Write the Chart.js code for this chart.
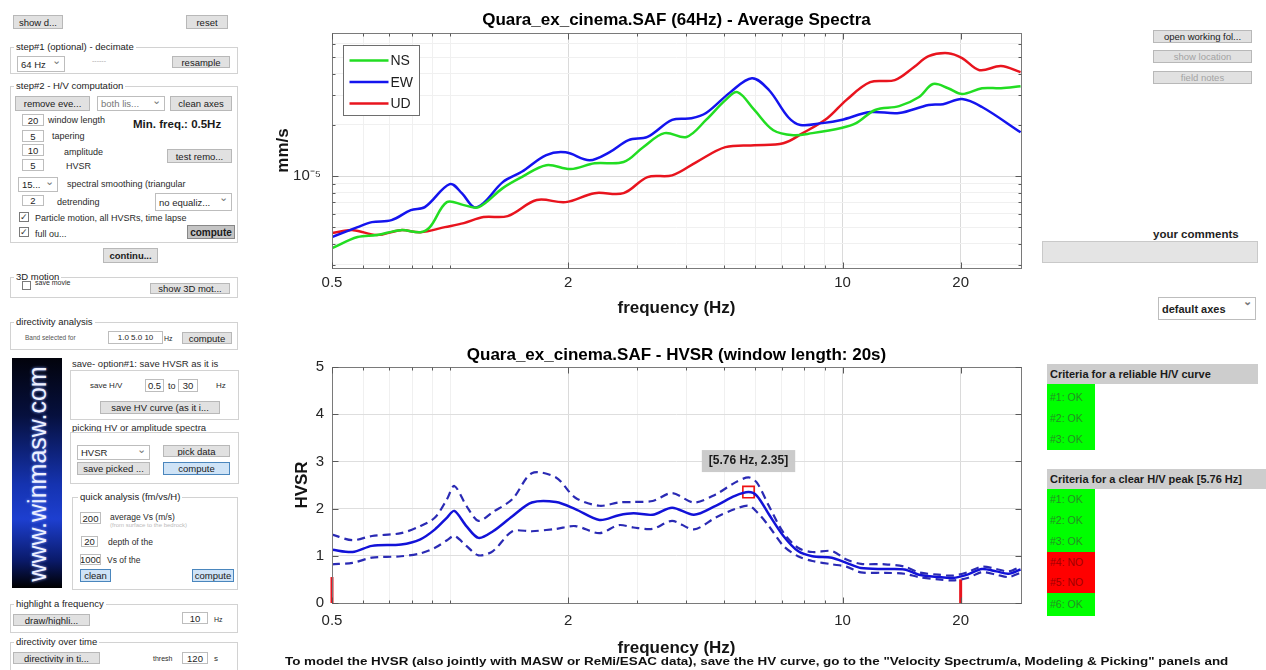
<!DOCTYPE html>
<html>
<head>
<meta charset="utf-8">
<title>HVSR analysis</title>
<script src="https://cdn.jsdelivr.net/npm/chart.js@4.4.1/dist/chart.umd.min.js"></script>
<style>
  html,body{margin:0;padding:0;background:#fff}
  body{width:1266px;height:670px;position:relative;overflow:hidden;font-family:'Liberation Sans',Arial,sans-serif;color:#1e1e1e}
  .a{position:absolute;box-sizing:border-box;white-space:nowrap;overflow:hidden}
  .b{background:#e1e1e1;border:1px solid #b8b8b8;font-size:9.5px;display:flex;align-items:center;justify-content:center;color:#1a1a1a}
  .bd{color:#a3a3a3}
  .bb{background:#cfe3f6;border:1px solid #4a86bd}
  .f{border:1px solid #d2d2d2}
  .g{font-size:9.5px;background:#fff;padding:0 2px;overflow:visible;color:#222}
  .i{background:#fff;border:1px solid #bdbdbd;font-size:9.5px;display:flex;align-items:center;justify-content:center}
  .t{font-size:9px;color:#2a2a2a;overflow:visible}
  .s{background:#fff;border:1px solid #bdbdbd;font-size:9.5px;display:flex;align-items:center;padding-left:3px}
  .s::after{content:'\2304';position:absolute;right:3px;top:-3px;color:#777;font-size:11px}
  .c{border:1px solid #7a7a7a;background:#fff;width:10px;height:10px;font-size:9px;line-height:9px;text-align:center;color:#333}
  .ok{background:#00ff00;color:#239023;font-size:10.5px;padding-left:3px}
  .no{background:#ff0000;color:#a00000;font-size:10.5px;padding-left:3px}
  .hd{background:#cdcdcd;font-size:11px;font-weight:bold;display:flex;align-items:center;padding-left:3px;color:#1a1a1a;overflow:visible}
</style>
</head>
<body>

<!-- left control panel -->
<div class="a b" style="left:13px;top:15px;width:50px;height:14px">show d...</div>
<div class="a b" style="left:186px;top:15px;width:42px;height:14px">reset</div>

<div class="a f" style="left:10px;top:47px;width:228px;height:27px"></div>
<div class="a g" style="left:14px;top:41px">step#1 (optional) - decimate</div>
<div class="a s" style="left:17px;top:56px;width:48px;height:16px">64 Hz</div>
<div class="a t" style="left:92px;top:57px;color:#aaa;font-size:7px">------</div>
<div class="a b" style="left:172px;top:56px;width:58px;height:12px">resample</div>

<div class="a f" style="left:10px;top:86px;width:228px;height:157px"></div>
<div class="a g" style="left:14px;top:80px">step#2 - H/V computation</div>
<div class="a b" style="left:15px;top:96px;width:75px;height:15px">remove eve...</div>
<div class="a s" style="left:97px;top:96px;width:68px;height:15px;color:#777">both lis...</div>
<div class="a b" style="left:170px;top:96px;width:62px;height:15px">clean axes</div>
<div class="a i" style="left:22px;top:114px;width:22px;height:12px">20</div>
<div class="a t" style="left:48px;top:115px">window length</div>
<div class="a t" style="left:133px;top:118px;font-size:11.5px;font-weight:bold;color:#1a1a1a">Min. freq.: 0.5Hz</div>
<div class="a i" style="left:22px;top:130px;width:22px;height:12px">5</div>
<div class="a t" style="left:52px;top:131px">tapering</div>
<div class="a i" style="left:22px;top:144px;width:22px;height:12px">10</div>
<div class="a t" style="left:64px;top:147px">amplitude</div>
<div class="a b" style="left:167px;top:149px;width:65px;height:14px">test remo...</div>
<div class="a i" style="left:22px;top:159px;width:22px;height:12px">5</div>
<div class="a t" style="left:66px;top:161px">HVSR</div>
<div class="a s" style="left:18px;top:177px;width:40px;height:15px">15...</div>
<div class="a t" style="left:67px;top:179px">spectral smoothing (triangular</div>
<div class="a i" style="left:22px;top:195px;width:22px;height:11px">2</div>
<div class="a t" style="left:57px;top:197px">detrending</div>
<div class="a s" style="left:155px;top:193px;width:77px;height:18px">no equaliz...</div>
<div class="a c" style="left:19px;top:212px">&#10003;</div>
<div class="a t" style="left:35px;top:213px">Particle motion, all HVSRs, time lapse</div>
<div class="a c" style="left:19px;top:227px">&#10003;</div>
<div class="a t" style="left:35px;top:229px">full ou...</div>
<div class="a b" style="left:187px;top:225px;width:48px;height:14px;background:#c4c4c4;border-color:#888;font-weight:bold;font-size:10px">compute</div>

<div class="a b" style="left:103px;top:248px;width:55px;height:15px;font-weight:bold">continu...</div>

<div class="a f" style="left:10px;top:277px;width:228px;height:21px"></div>
<div class="a g" style="left:14px;top:271px">3D motion</div>
<div class="a c" style="left:22px;top:281px;width:9px;height:9px"></div>
<div class="a t" style="left:35px;top:279px;font-size:7px">save movie</div>
<div class="a b" style="left:150px;top:283px;width:80px;height:11px">show 3D mot...</div>

<div class="a f" style="left:10px;top:322px;width:228px;height:28px"></div>
<div class="a g" style="left:14px;top:316px">directivity analysis</div>
<div class="a t" style="left:25px;top:334px;font-size:6.5px;color:#555">Band selected for</div>
<div class="a i" style="left:108px;top:331px;width:55px;height:13px;font-size:8px">1.0 5.0 10</div>
<div class="a t" style="left:164px;top:335px;font-size:7px">Hz</div>
<div class="a b" style="left:182px;top:332px;width:50px;height:12px">compute</div>

<div class="a" style="left:12px;top:358px;width:50px;height:230px;background:linear-gradient(180deg,#02030c 0%,#06103e 25%,#1533b0 55%,#1d3fd0 70%,#0a1a6a 88%,#000 100%)">
  <div style="position:absolute;left:25px;top:116px;transform:translate(-50%,-50%) rotate(-90deg);font-size:25px;color:#eef1ff;white-space:nowrap;text-shadow:0 0 3px #86a4ff">www.winmasw.com</div>
</div>

<div class="a t" style="left:72px;top:358px;font-size:9.5px">save- option#1: save HVSR as it is</div>
<div class="a f" style="left:70px;top:370px;width:169px;height:50px"></div>
<div class="a t" style="left:90px;top:381px;font-size:8px">save H/V</div>
<div class="a i" style="left:145px;top:379px;width:19px;height:13px">0.5</div>
<div class="a t" style="left:168px;top:381px">to</div>
<div class="a i" style="left:178px;top:379px;width:20px;height:13px">30</div>
<div class="a t" style="left:216px;top:381px;font-size:8px">Hz</div>
<div class="a b" style="left:100px;top:401px;width:120px;height:13px">save HV curve (as it i...</div>

<div class="a t" style="left:72px;top:422px;font-size:9.5px">picking HV or amplitude spectra</div>
<div class="a f" style="left:70px;top:432px;width:169px;height:52px"></div>
<div class="a s" style="left:77px;top:445px;width:73px;height:15px">HVSR</div>
<div class="a b" style="left:77px;top:462px;width:73px;height:13px">save picked ...</div>
<div class="a b" style="left:163px;top:445px;width:67px;height:12px">pick data</div>
<div class="a b bb" style="left:163px;top:462px;width:67px;height:13px">compute</div>

<div class="a f" style="left:72px;top:497px;width:166px;height:93px"></div>
<div class="a g" style="left:78px;top:491px">quick analysis (fm/vs/H)</div>
<div class="a i" style="left:80px;top:512px;width:21px;height:12px">200</div>
<div class="a t" style="left:110px;top:512px;font-size:8.5px">average Vs (m/s)</div>
<div class="a t" style="left:110px;top:522px;font-size:6px;color:#bbb">(from surface to the bedrock)</div>
<div class="a i" style="left:81px;top:536px;width:17px;height:11px">20</div>
<div class="a t" style="left:108px;top:537px;font-size:8.5px">depth of the</div>
<div class="a i" style="left:80px;top:554px;width:21px;height:11px">1000</div>
<div class="a t" style="left:107px;top:555px;font-size:8.5px">Vs of the</div>
<div class="a b bb" style="left:80px;top:569px;width:31px;height:13px">clean</div>
<div class="a b bb" style="left:192px;top:569px;width:42px;height:13px">compute</div>

<div class="a f" style="left:10px;top:604px;width:228px;height:29px"></div>
<div class="a g" style="left:14px;top:598px">highlight a frequency</div>
<div class="a b" style="left:13px;top:614px;width:77px;height:12px">draw/highli...</div>
<div class="a i" style="left:182px;top:612px;width:26px;height:12px">10</div>
<div class="a t" style="left:214px;top:616px;font-size:7px">Hz</div>

<div class="a f" style="left:10px;top:642px;width:228px;height:30px"></div>
<div class="a g" style="left:14px;top:636px">directivity over time</div>
<div class="a b" style="left:13px;top:652px;width:87px;height:12px">directivity in ti...</div>
<div class="a t" style="left:153px;top:655px;font-size:7px">thresh</div>
<div class="a i" style="left:182px;top:652px;width:26px;height:12px">120</div>
<div class="a t" style="left:214px;top:654px;font-size:8px">s</div>

<!-- right panel -->
<div class="a b" style="left:1153px;top:30px;width:99px;height:13px">open working fol...</div>
<div class="a b bd" style="left:1153px;top:50px;width:99px;height:13px">show location</div>
<div class="a b bd" style="left:1153px;top:71px;width:99px;height:13px">field notes</div>
<div class="a t" style="left:1153px;top:228px;font-size:11.5px;font-weight:bold;color:#1e1e1e">your comments</div>
<div class="a" style="left:1042px;top:241px;width:216px;height:22px;background:#e4e4e4;border:1px solid #c9c9c9"></div>
<div class="a s" style="left:1158px;top:297px;width:98px;height:23px;font-size:11px;font-weight:bold;padding-left:3px">default axes</div>

<div class="a hd" style="left:1047px;top:364px;width:211px;height:20px">Criteria for a reliable H/V curve</div>
<div class="a ok" style="left:1047px;top:384px;width:48px;height:66px;line-height:21px;padding-top:3px">#1: OK<br>#2: OK<br>#3: OK</div>
<div class="a hd" style="left:1047px;top:469px;width:219px;height:20px">Criteria for a clear H/V peak [5.76 Hz]</div>
<div class="a ok" style="left:1047px;top:489px;width:48px;height:63px;line-height:21px">#1: OK<br>#2: OK<br>#3: OK</div>
<div class="a no" style="left:1047px;top:552px;width:48px;height:41px;line-height:20px">#4: NO<br>#5: NO</div>
<div class="a ok" style="left:1047px;top:593px;width:48px;height:23px;line-height:23px">#6: OK</div>

<!-- charts -->
<canvas id="spec" class="a" style="left:270px;top:0" width="770" height="320"></canvas>
<canvas id="hvsr" class="a" style="left:280px;top:330px" width="760" height="330"></canvas>

<div id="note" class="a" style="left:285px;top:655px;font-size:11px;font-weight:bold;color:#111;transform-origin:0 0;overflow:visible">To model the HVSR (also jointly with MASW or ReMi/ESAC data), save the HV curve, go to the "Velocity Spectrum/a, Modeling &amp; Picking" panels and</div>

<script>
// ---- average amplitude spectra (mm/s) per component ----
const freqNS = [0.5,0.581,0.651,0.749,0.840,0.888,0.981,1.084,1.183,1.362,1.522,1.758,2.028,2.335,2.767,3.104,3.518,4.003,4.490,5.029,5.397,5.960,6.663,7.490,8.373,9.925,10.83,12.11,13.94,15.67,17.01,18.58,20.17,22.67,25.34,28.43];
const ampNS = [3.77e-6,4.38e-6,4.50e-6,4.81e-6,4.68e-6,5.01e-6,7.03e-6,6.75e-6,6.57e-6,8.50e-6,9.87e-6,1.16e-5,1.10e-5,1.19e-5,1.21e-5,1.48e-5,1.79e-5,1.70e-5,2.14e-5,2.80e-5,3.12e-5,2.45e-5,1.86e-5,1.74e-5,1.79e-5,1.92e-5,2.05e-5,2.45e-5,2.58e-5,2.92e-5,3.48e-5,3.29e-5,3.04e-5,3.29e-5,3.29e-5,3.38e-5];

const freqEW = [0.5,0.581,0.632,0.709,0.794,0.862,0.998,1.071,1.149,1.216,1.362,1.522,1.758,1.970,2.267,2.544,2.849,3.184,3.679,4.121,4.490,5.180,5.877,6.493,7.274,7.806,8.878,9.925,11.76,13.94,16.57,18.04,20.17,22.67,28.43];
const ampEW = [4.38e-6,5.01e-6,5.36e-6,5.51e-6,6.31e-6,6.57e-6,8.97e-6,7.94e-6,6.57e-6,6.94e-6,9.22e-6,1.06e-5,1.33e-5,1.38e-5,1.24e-5,1.38e-5,1.63e-5,1.70e-5,2.14e-5,2.19e-5,2.35e-5,3.12e-5,3.77e-5,3.21e-5,2.22e-5,2.00e-5,2.05e-5,2.14e-5,2.38e-5,2.35e-5,2.62e-5,2.65e-5,2.84e-5,2.55e-5,1.81e-5];

const freqUD = [0.5,0.566,0.651,0.749,0.840,0.970,1.084,1.216,1.402,1.662,1.970,2.335,2.767,3.184,3.679,4.244,5.029,5.960,7.064,7.920,9.144,10.22,11.76,13.59,15.22,16.57,18.58,20.17,22.34,25.34,28.43];
const ampUD = [4.62e-6,4.81e-6,4.50e-6,4.81e-6,4.68e-6,5.01e-6,5.29e-6,5.74e-6,5.82e-6,7.23e-6,7.03e-6,7.94e-6,7.94e-6,9.87e-6,1.01e-5,1.21e-5,1.48e-5,1.52e-5,1.56e-5,1.79e-5,2.19e-5,2.80e-5,3.57e-5,3.67e-5,4.38e-5,5.08e-5,5.29e-5,4.95e-5,4.20e-5,4.44e-5,4.09e-5];

// ---- H/V spectral ratio: mean and mean ± standard deviation ----
const freqHV = [0.5,0.564,0.632,0.750,0.840,0.915,0.982,1.025,1.100,1.181,1.286,1.441,1.615,1.861,2.085,2.402,2.691,2.933,3.282,3.679,4.181,4.750,5.32,5.76,6.05,6.49,7.07,7.70,8.38,9.39,10.23,11.14,12.83,14.38,15.66,17.54,19.11,20.81,22.66,24.67,26.48,28.43];
const hvMean = [1.13,1.08,1.21,1.24,1.35,1.56,1.81,1.95,1.63,1.38,1.52,1.84,2.13,2.14,1.99,1.76,1.86,1.90,1.87,2.02,1.87,2.06,2.27,2.35,2.27,1.88,1.42,1.10,0.99,0.96,0.85,0.74,0.72,0.71,0.60,0.55,0.53,0.60,0.72,0.67,0.62,0.71];
const hvUpper = [1.45,1.33,1.42,1.48,1.63,1.81,2.20,2.48,2.06,1.74,1.93,2.20,2.75,2.66,2.23,2.06,2.13,2.14,2.16,2.33,2.13,2.30,2.55,2.66,2.55,2.06,1.49,1.17,1.08,1.10,0.92,0.83,0.82,0.77,0.65,0.60,0.58,0.65,0.77,0.72,0.67,0.77];
const hvLower = [0.82,0.85,0.96,0.99,1.05,1.17,1.33,1.42,1.21,1.01,1.10,1.52,1.52,1.57,1.63,1.48,1.65,1.60,1.57,1.74,1.56,1.81,1.99,2.06,1.93,1.63,1.21,0.99,0.89,0.82,0.77,0.65,0.64,0.62,0.55,0.50,0.48,0.53,0.65,0.60,0.55,0.64];

// picked H/V peak and the analysed frequency band
const peakFreq = 5.76;
const peakHV = 2.35;
const bandLimits = [0.5, 20];
const bandMarkHeight = [0.55, 0.5];

// axes
const xMin = 0.5, xMax = 28.5;
const xTickValues = [0.5,0.6,0.7,0.8,0.9,1,2,3,4,5,6,7,8,9,10,20];
const xTickLabels = [0.5,2,10,20];
const specMin = 2.88e-6, specMax = 6.95e-5;
const specTickValues = [3e-6,4e-6,5e-6,6e-6,7e-6,8e-6,9e-6,1e-5,2e-5,3e-5,4e-5,5e-5,6e-5];
const specLabelValue = 1e-5, specLabelText = '10\u207B\u2075';
const hvTickValues = [0,1,2,3,4,5];

Chart.defaults.font.family = "'Liberation Sans', Arial, sans-serif";
Chart.defaults.animation = false;

const pts = (xs, ys) => xs.map((x, i) => ({x, y: ys[i]}));
const tickFont = {size: 15};
const tickColor = '#262626';
const axisTitleFont = {size: 17, weight: 'bold'};

function freqAxis(height, pad) {
  return {
    type: 'logarithmic', min: xMin, max: xMax,
    afterBuildTicks: s => { s.ticks = xTickValues.map(v => ({value: v})); },
    afterFit: s => { s.height = height; },
    ticks: {autoSkip: false, maxRotation: 0, padding: pad, color: tickColor, font: tickFont,
            callback: v => xTickLabels.includes(v) ? String(v) : ''},
    grid: {drawTicks: false, color: c => (c.tick && xTickLabels.includes(c.tick.value)) ? '#dadada' : '#f0f0f0'},
    border: {display: false},
    title: {display: true, text: 'frequency (Hz)', color: '#141414', font: axisTitleFont, padding: {top: 0, bottom: 1.8}}
  };
}

// box around the axes with inward tick marks on all four sides
const axesFrame = {
  id: 'axesFrame',
  afterDraw(chart) {
    const {ctx, chartArea: a, scales: {x, y}} = chart;
    ctx.save();
    ctx.strokeStyle = '#7a7a7a';
    ctx.lineWidth = 1;
    const L = Math.round(a.left) + 0.5, T = Math.round(a.top) + 0.5;
    const R = Math.round(a.right) + 0.5, B = Math.round(a.bottom) + 0.5;
    ctx.strokeRect(L, T, R - L, B - T);
    ctx.strokeStyle = '#5a5a5a';
    ctx.beginPath();
    x.ticks.forEach(t => {
      const p = Math.round(x.getPixelForValue(t.value)) + 0.5;
      const len = t.label ? 6 : 3;
      ctx.moveTo(p, B); ctx.lineTo(p, B - len);
      ctx.moveTo(p, T); ctx.lineTo(p, T + len);
    });
    y.ticks.forEach(t => {
      const p = Math.round(y.getPixelForValue(t.value)) + 0.5;
      const len = t.label ? 6 : 3;
      ctx.moveTo(L, p); ctx.lineTo(L + len, p);
      ctx.moveTo(R, p); ctx.lineTo(R - len, p);
    });
    ctx.stroke();
    ctx.restore();
  }
};

// boxed legend in the upper-left corner of the spectra axes
const boxLegend = {
  id: 'boxLegend',
  afterDraw(chart) {
    const {ctx, chartArea: a} = chart;
    const x0 = Math.round(a.left) + 11.5, y0 = Math.round(a.top) + 12.5, w = 76, h = 70;
    ctx.save();
    ctx.fillStyle = '#fff';
    ctx.fillRect(x0, y0, w, h);
    ctx.strokeStyle = '#6e6e6e';
    ctx.lineWidth = 1;
    ctx.strokeRect(x0, y0, w, h);
    chart.data.datasets.forEach((ds, i) => {
      const yy = y0 + 15 + i * 21.5;
      ctx.strokeStyle = ds.borderColor;
      ctx.lineWidth = 2.5;
      ctx.beginPath(); ctx.moveTo(x0 + 6, yy); ctx.lineTo(x0 + 45, yy); ctx.stroke();
      ctx.fillStyle = '#1e1e1e';
      ctx.font = "14px 'Liberation Sans', Arial, sans-serif";
      ctx.textBaseline = 'middle';
      ctx.fillText(ds.label, x0 + 47, yy + 1);
    });
    ctx.restore();
  }
};

// data tip above the picked peak
const peakTip = {
  id: 'peakTip',
  afterDraw(chart) {
    const {ctx, scales: {x, y}} = chart;
    const px = x.getPixelForValue(peakFreq), py = y.getPixelForValue(peakHV);
    const text = '[' + peakFreq.toFixed(2) + ' Hz, ' + peakHV.toFixed(2) + ']';
    ctx.save();
    ctx.font = "bold 12px 'Liberation Sans', Arial, sans-serif";
    const w = ctx.measureText(text).width + 14, h = 22;
    ctx.fillStyle = 'rgba(200,200,200,0.95)';
    ctx.fillRect(px - w / 2, py - 42, w, h);
    ctx.fillStyle = '#1a1a1a';
    ctx.textAlign = 'center';
    ctx.textBaseline = 'middle';
    ctx.fillText(text, px, py - 31);
    ctx.restore();
  }
};

// ---- average spectra ----
new Chart(document.getElementById('spec'), {
  type: 'line',
  data: {
    datasets: [
      {label: 'NS', data: pts(freqNS, ampNS), borderColor: '#22dd22', borderWidth: 2.5, pointRadius: 0, tension: 0.35},
      {label: 'EW', data: pts(freqEW, ampEW), borderColor: '#1414ee', borderWidth: 2.5, pointRadius: 0, tension: 0.35},
      {label: 'UD', data: pts(freqUD, ampUD), borderColor: '#e8141e', borderWidth: 2.5, pointRadius: 0, tension: 0.35}
    ]
  },
  options: {
    responsive: false,
    layout: {padding: {left: 0, right: 19, top: 0, bottom: 0}},
    plugins: {
      legend: {display: false},
      tooltip: {enabled: false},
      title: {display: true, fullSize: false, text: 'Quara_ex_cinema.SAF (64Hz) - Average Spectra', color: '#000',
              font: {size: 17, weight: 'bold'}, padding: {top: 9.8, bottom: 2.8}}
    },
    scales: {
      x: freqAxis(52, 6),
      y: {
        type: 'logarithmic', min: specMin, max: specMax,
        afterBuildTicks: s => { s.ticks = specTickValues.map(v => ({value: v})); },
        afterFit: s => { s.width = 62; },
        ticks: {autoSkip: false, padding: 11, color: tickColor, font: tickFont,
                callback: v => v === specLabelValue ? specLabelText : ''},
        grid: {drawTicks: false, color: c => (c.tick && c.tick.value === specLabelValue) ? '#dadada' : '#f0f0f0'},
        border: {display: false},
        title: {display: true, text: 'mm/s', color: '#141414', font: axisTitleFont, padding: {top: 3, bottom: 0}}
      }
    }
  },
  plugins: [axesFrame, boxLegend]
});

// ---- H/V spectral ratio ----
const bandDatasets = bandLimits.map((f, i) => ({
  data: [{x: f, y: 0}, {x: f, y: bandMarkHeight[i]}],
  borderColor: '#e8141e', borderWidth: 3, pointRadius: 0, clip: false
}));

new Chart(document.getElementById('hvsr'), {
  type: 'line',
  data: {
    datasets: [
      {data: pts(freqHV, hvUpper), borderColor: '#2a2ab4', borderWidth: 2.2, borderDash: [8, 5], pointRadius: 0, tension: 0.3},
      {data: pts(freqHV, hvLower), borderColor: '#2a2ab4', borderWidth: 2.2, borderDash: [8, 5], pointRadius: 0, tension: 0.3},
      {data: pts(freqHV, hvMean), borderColor: '#1212d8', borderWidth: 2.5, pointRadius: 0, tension: 0.3},
      ...bandDatasets,
      {data: [{x: peakFreq, y: peakHV}], showLine: false, pointStyle: 'rect', pointRadius: 8,
       pointBorderColor: '#ee1111', pointBackgroundColor: 'rgba(0,0,0,0)', pointBorderWidth: 1.6}
    ]
  },
  options: {
    responsive: false,
    layout: {padding: {left: 0, right: 19, top: 0, bottom: 0}},
    plugins: {
      legend: {display: false},
      tooltip: {enabled: false},
      title: {display: true, fullSize: false, text: 'Quara_ex_cinema.SAF - HVSR (window length: 20s)', color: '#000',
              font: {size: 17, weight: 'bold'}, padding: {top: 14.8, bottom: 1.8}}
    },
    scales: {
      x: freqAxis(57, 9),
      y: {
        type: 'linear', min: 0, max: 5,
        afterBuildTicks: s => { s.ticks = hvTickValues.map(v => ({value: v})); },
        afterFit: s => { s.width = 52; },
        ticks: {autoSkip: false, padding: 8, color: tickColor, font: tickFont},
        grid: {drawTicks: false, color: '#dedede'},
        border: {display: false},
        title: {display: true, text: 'HVSR', color: '#141414', font: axisTitleFont, padding: {top: 11.8, bottom: 0}}
      }
    }
  },
  plugins: [axesFrame, peakTip]
});

// stretch the footer note across the plotting column
const note = document.getElementById('note');
note.style.transform = 'scaleX(' + (943 / note.scrollWidth).toFixed(4) + ')';
</script>
</body>
</html>
